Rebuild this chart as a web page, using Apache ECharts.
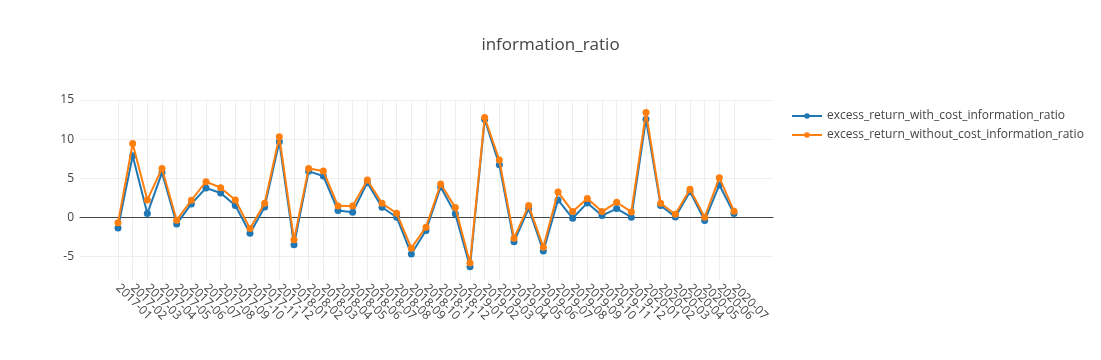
<!DOCTYPE html>
<html>
<head>
<meta charset="utf-8">
<script src="https://cdn.jsdelivr.net/npm/echarts@6/dist/echarts.min.js"></script>
<style>html,body{margin:0;padding:0;background:#fff;}#c{width:1101px;height:360px;}</style>
</head>
<body>
<div id="c"></div>
<script>
const categories = ['2017-01','2017-02','2017-03','2017-04','2017-05','2017-06','2017-07','2017-08','2017-09','2017-10','2017-11','2017-12',
  '2018-01','2018-02','2018-03','2018-04','2018-05','2018-06','2018-07','2018-08','2018-09','2018-10','2018-11','2018-12',
  '2019-01','2019-02','2019-03','2019-04','2019-05','2019-06','2019-07','2019-08','2019-09','2019-10','2019-11','2019-12',
  '2020-01','2020-02','2020-03','2020-04','2020-05','2020-06','2020-07'];
const withCost = [-1.34, 7.88, 0.49, 5.71, -0.83, 1.72, 3.76, 3.12, 1.51, -2.02, 1.34, 9.66,
  -3.50, 5.88, 5.29, 0.87, 0.66, 4.44, 1.30, 0.02, -4.69, -1.68, 3.89, 0.45,
  -6.31, 12.50, 6.73, -3.12, 1.13, -4.31, 2.23, -0.11, 1.85, 0.23, 1.13, 0.02,
  12.55, 1.51, 0.06, 3.29, -0.40, 4.14, 0.49];
const withoutCost = [-0.70, 9.45, 2.23, 6.26, -0.36, 2.19, 4.56, 3.80, 2.23, -1.42, 1.80, 10.30,
  -2.87, 6.26, 5.92, 1.46, 1.46, 4.78, 1.80, 0.53, -3.93, -1.25, 4.27, 1.25,
  -5.84, 12.76, 7.32, -2.65, 1.51, -3.80, 3.25, 0.74, 2.40, 0.74, 1.93, 0.70,
  13.40, 1.80, 0.40, 3.59, 0.02, 5.07, 0.79];
const seriesNames = ['excess_return_with_cost_information_ratio', 'excess_return_without_cost_information_ratio'];
const colors = ['#1f77b4', '#ff7f0e'];
const yMin = -8, yMax = 15;

const font = '"Open Sans", verdana, arial, sans-serif';
const chart = echarts.init(document.getElementById('c'), null, {renderer: 'canvas'});
chart.setOption({
  animation: false,
  backgroundColor: '#fff',
  textStyle: {fontFamily: font},
  title: {
    text: 'information_ratio', left: 'center', top: 37, padding: 0,
    textStyle: {fontFamily: font, fontSize: 17, fontWeight: 'normal', color: '#444'}
  },
  legend: {
    orient: 'vertical', left: 786, top: 105, itemWidth: 30, itemHeight: 7, itemGap: 7,
    textStyle: {fontFamily: font, fontSize: 12, color: '#444'},
    data: seriesNames
  },
  grid: [
    {left: 80, right: 328, top: 100, bottom: 80},
    {left: 118, right: 367, top: 100, bottom: 80}
  ],
  xAxis: [
    {gridIndex: 0, type: 'value', min: 0, max: 1, axisLabel: {show: false}, axisTick: {show: false},
     splitLine: {show: false}, axisLine: {show: true, onZero: true, lineStyle: {color: '#444', width: 1}}},
    {gridIndex: 1, type: 'category', data: categories, boundaryGap: false,
     axisLine: {show: false, onZero: false}, axisTick: {show: false},
     splitLine: {show: true, lineStyle: {color: '#eee', width: 1}},
     axisLabel: {rotate: -45, interval: 0, margin: 6, fontFamily: font, fontSize: 12, color: '#444'}}
  ],
  yAxis: [
    {gridIndex: 0, type: 'value', min: yMin, max: yMax,
     axisLine: {show: false}, axisTick: {show: false},
     splitLine: {show: true, showMinLine: false, lineStyle: {color: '#eee', width: 1}},
     axisLabel: {showMinLabel: false, margin: 6, fontFamily: font, fontSize: 12, color: '#444'}},
    {gridIndex: 1, type: 'value', min: yMin, max: yMax, show: false, splitLine: {show: false}}
  ],
  series: [
    {name: seriesNames[0], type: 'line', xAxisIndex: 1, yAxisIndex: 1, data: withCost,
     color: colors[0], symbol: 'circle', symbolSize: 7, showAllSymbol: true,
     lineStyle: {width: 2, color: colors[0]}, itemStyle: {color: colors[0]}, z: 3},
    {name: seriesNames[1], type: 'line', xAxisIndex: 1, yAxisIndex: 1, data: withoutCost,
     color: colors[1], symbol: 'circle', symbolSize: 7, showAllSymbol: true,
     lineStyle: {width: 2, color: colors[1]}, itemStyle: {color: colors[1]}, z: 4}
  ]
});
</script>
</body>
</html>
